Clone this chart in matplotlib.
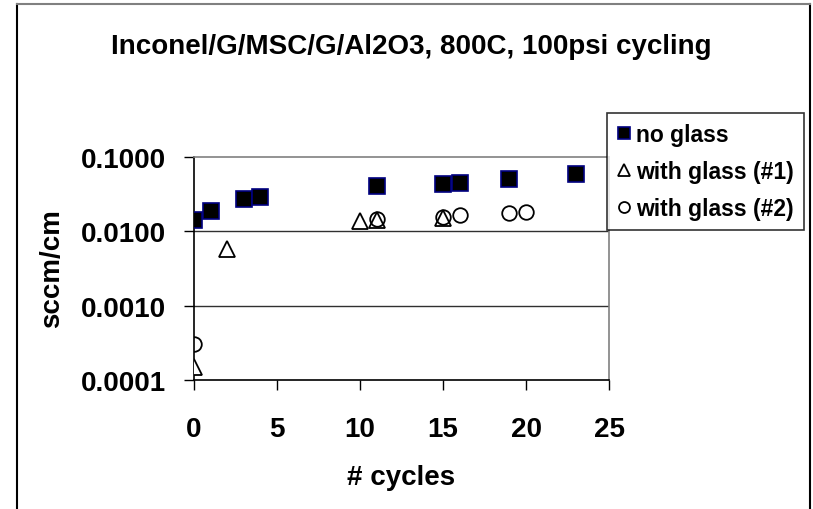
import matplotlib
matplotlib.use("Agg")
import matplotlib.pyplot as plt
from matplotlib.lines import Line2D

plt.rcParams['font.family'] = ['Liberation Sans', 'DejaVu Sans']
plt.rcParams['font.weight'] = 'bold'

# data
cycles_none = [0, 1, 3, 4, 11, 15, 16, 19, 23]
flow_none = [0.0141, 0.0185, 0.0275, 0.029, 0.0405, 0.043, 0.045, 0.050, 0.0595]
cycles_g1 = [0, 2, 10, 11, 15]
flow_g1 = [0.000148, 0.0057, 0.0137, 0.0142, 0.0153]
cycles_g2 = [0, 11, 15, 16, 19, 20]
flow_g2 = [0.000304, 0.0145, 0.0157, 0.0164, 0.0174, 0.0184]

x_ticks = [0, 5, 10, 15, 20, 25]
y_ticks = [0.0001, 0.001, 0.01, 0.1]
y_ticklabels = ['0.0001', '0.0010', '0.0100', '0.1000']

W, H = 813, 510
fig = plt.figure(figsize=(W / 100, H / 100), dpi=100)
ax = fig.add_axes([194 / W, 1 - 381 / H, (609 - 194) / W, (381 - 158) / H])

ax.plot(cycles_none, flow_none, 's', ms=11.5, mfc='black', mec='#000080', mew=1.2,
        ls='none', label='no glass', zorder=3)
ax.plot(cycles_g1, flow_g1, '^', ms=11, mfc='white', mec='black', mew=1.3,
        ls='none', label='with glass (#1)', zorder=3)
ax.plot(cycles_g2, flow_g2, 'o', ms=10.5, mfc='none', mec='black', mew=1.3,
        ls='none', label='with glass (#2)', zorder=4)

ax.set_yscale('log')
ax.set_xlim(0, 25)
ax.set_ylim(0.0001, 0.1)
ax.set_xticks(x_ticks)
ax.set_xticklabels([str(t) for t in x_ticks], fontsize=20, fontweight='bold')
ax.set_yticks(y_ticks)
ax.set_yticklabels(y_ticklabels, fontsize=20, fontweight='bold')
ax.minorticks_off()
ax.tick_params(axis='both', direction='out', length=7, width=1, color='black')
ax.tick_params(axis='y', pad=13)
ax.tick_params(axis='x', pad=19)

for y in [0.001, 0.01]:
    ax.axhline(y, color='#303030', lw=1, zorder=1)
ax.spines['left'].set_color('black')
ax.spines['bottom'].set_color('black')
ax.spines['top'].set_color('#808080')
ax.spines['right'].set_color('#808080')
for s in ax.spines.values():
    s.set_linewidth(1.2)

fig.text(411 / W, 1 - 47 / H, 'Inconel/G/MSC/G/Al2O3, 800C, 100psi cycling',
         ha='center', va='center', fontsize=20, fontweight='bold')
fig.text(52 / W, 1 - 269 / H, 'sccm/cm', rotation=90, ha='center', va='center',
         fontsize=20, fontweight='bold')
fig.text(401 / W, 1 - 478 / H, '# cycles', ha='center', va='center',
         fontsize=20, fontweight='bold')

leg = fig.legend(loc='upper left', bbox_to_anchor=(607 / W, 1 - 114 / H),
                 bbox_transform=fig.transFigure, borderaxespad=0,
                 fontsize=16.5, markerscale=0.75, handlelength=0.6,
                 handletextpad=0.2, labelspacing=0.6, borderpad=0.45,
                 frameon=True, fancybox=False)
leg.get_frame().set_edgecolor('black')
leg.get_frame().set_linewidth(1.2)
for t in leg.get_texts():
    t.set_fontweight('bold')

# chart area border
fig.add_artist(Line2D([17 / W, 17 / W], [0, 1 - 5 / H], color='black', lw=1.5))
fig.add_artist(Line2D([810 / W, 810 / W], [0, 1 - 5 / H], color='black', lw=1.5))
fig.add_artist(Line2D([17 / W, 810 / W], [1 - 5 / H, 1 - 5 / H], color='#808080', lw=1.5))

fig.savefig('out.png', dpi=100)
